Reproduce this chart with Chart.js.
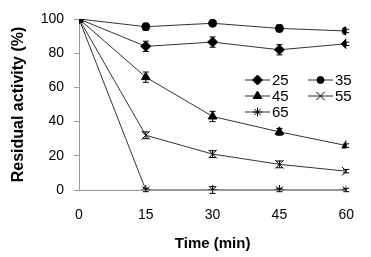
<!DOCTYPE html>
<html><head><meta charset="utf-8">
<script src="https://cdn.jsdelivr.net/npm/chart.js@4/dist/chart.umd.min.js"></script>
<style>html,body{margin:0;padding:0;background:#fff}#w{width:371px;height:257px}</style>
</head><body><div id="w"><canvas id="c" width="371" height="257"></canvas></div>
<script>
const times = [0, 15, 30, 45, 60];
const seriesLabels = ['25', '35', '45', '55', '65'];
const v25 = [100, 84, 86.5, 82, 85.5];
const v35 = [100, 95.5, 97.5, 94.5, 93];
const v45 = [100, 66, 43, 34, 26];
const v55 = [100, 32, 21, 15, 11];
const v65 = [100, 0, 0, 0, 0];
const e25 = [0, 3, 3, 3, 1];
const e35 = [0, 2, 1, 2, 1];
const e45 = [0, 3, 3, 2, 1];
const e55 = [0, 2, 2, 2, 1];
const e65 = [0, 1, 2, 1, 1];
const xTicks = [0, 15, 30, 45, 60];
const yTicks = [0, 20, 40, 60, 80, 100];

const styles = ['rectRot', 'circle', 'triangle', 'crossRot', 'star'];
const radii = [5, 4, 5, 6, 5];
const vals = [v25, v35, v45, v55, v65];
const errs = [e25, e35, e45, e55, e65];

const datasets = vals.map((v, i) => ({
  label: seriesLabels[i],
  data: times.map((t, j) => ({x: t, y: v[j]})),
  errors: errs[i],
  borderColor: '#333',
  borderWidth: 1,
  pointStyle: styles[i],
  pointRadius: radii[i],
  pointBorderColor: '#000',
  pointBackgroundColor: '#000',
  pointBorderWidth: 1,
  tension: 0
}));

const errorPlugin = {
  id: 'errs',
  afterDatasetsDraw(chart) {
    const ctx = chart.ctx, xs = chart.scales.x, ys = chart.scales.y;
    ctx.save();
    ctx.strokeStyle = '#000'; ctx.lineWidth = 1;
    chart.data.datasets.forEach(ds => {
      ds.data.forEach((p, j) => {
        const e = ds.errors[j]; if (!e) return;
        const px = xs.getPixelForValue(p.x);
        const y1 = ys.getPixelForValue(p.y - e), y2 = ys.getPixelForValue(p.y + e);
        ctx.beginPath();
        ctx.moveTo(px, y1); ctx.lineTo(px, y2);
        ctx.moveTo(px - 3, y1); ctx.lineTo(px + 3, y1);
        ctx.moveTo(px - 3, y2); ctx.lineTo(px + 3, y2);
        ctx.stroke();
      });
    });
    ctx.restore();
  }
};

const legendPlugin = {
  id: 'customLegend',
  afterDraw(chart) {
    const ctx = chart.ctx;
    const pos = [[245, 80], [308, 80], [245, 96], [308, 96], [245, 112]];
    const lr = [5, 3.5, 5, 6, 4.5];
    ctx.save();
    ctx.font = '15px "Liberation Sans", Arial, sans-serif';
    ctx.textBaseline = 'middle';
    ctx.fillStyle = '#000';
    chart.data.datasets.forEach((ds, i) => {
      const [x, y] = pos[i];
      ctx.strokeStyle = '#333'; ctx.lineWidth = 1;
      ctx.beginPath(); ctx.moveTo(x, y); ctx.lineTo(x + 25, y); ctx.stroke();
      ctx.fillStyle = '#000'; ctx.strokeStyle = '#000';
      Chart.helpers.drawPoint(ctx, {pointStyle: ds.pointStyle, radius: lr[i], borderWidth: 1}, x + 12.5, y);
      ctx.fillStyle = '#000';
      ctx.fillText(ds.label, x + 27, y + 1);
    });
    ctx.restore();
  }
};

new Chart(document.getElementById('c'), {
  type: 'line',
  data: {datasets},
  plugins: [errorPlugin, legendPlugin],
  options: {
    responsive: false,
    animation: false,
    layout: {padding: {top: 19, right: 24, bottom: 0, left: 0}},
    plugins: {legend: {display: false}, tooltip: {enabled: false}},
    scales: {
      x: {
        type: 'linear', min: 0, max: 60,
        afterFit(s) { s.height = 67; },
        afterBuildTicks(s) { s.ticks = xTicks.map(v => ({value: v})); },
        grid: {display: true, drawOnChartArea: false, drawTicks: false, color: '#999'},
        border: {display: true, color: '#999', width: 1},
        ticks: {color: '#000', padding: 17, font: {family: '"Liberation Sans", Arial', size: 14}},
        title: {display: true, text: 'Time (min)', color: '#000', font: {family: '"Liberation Sans", Arial', size: 15, weight: 'bold'}, padding: {top: 4, bottom: 4}}
      },
      y: {
        min: 0, max: 100,
        afterFit(s) { s.width = 79; },
        afterBuildTicks(s) { s.ticks = yTicks.map(v => ({value: v})); },
        grid: {display: true, drawOnChartArea: false, tickLength: 5, color: '#999'},
        border: {display: true, color: '#999', width: 1},
        ticks: {color: '#000', padding: 10, font: {family: '"Liberation Sans", Arial', size: 14}},
        title: {display: true, text: 'Residual activity (%)', color: '#000', font: {family: '"Liberation Sans", Arial', size: 16, weight: 'bold'}, padding: {top: 9, bottom: 4}}
      }
    }
  }
});
</script>
</body></html>
